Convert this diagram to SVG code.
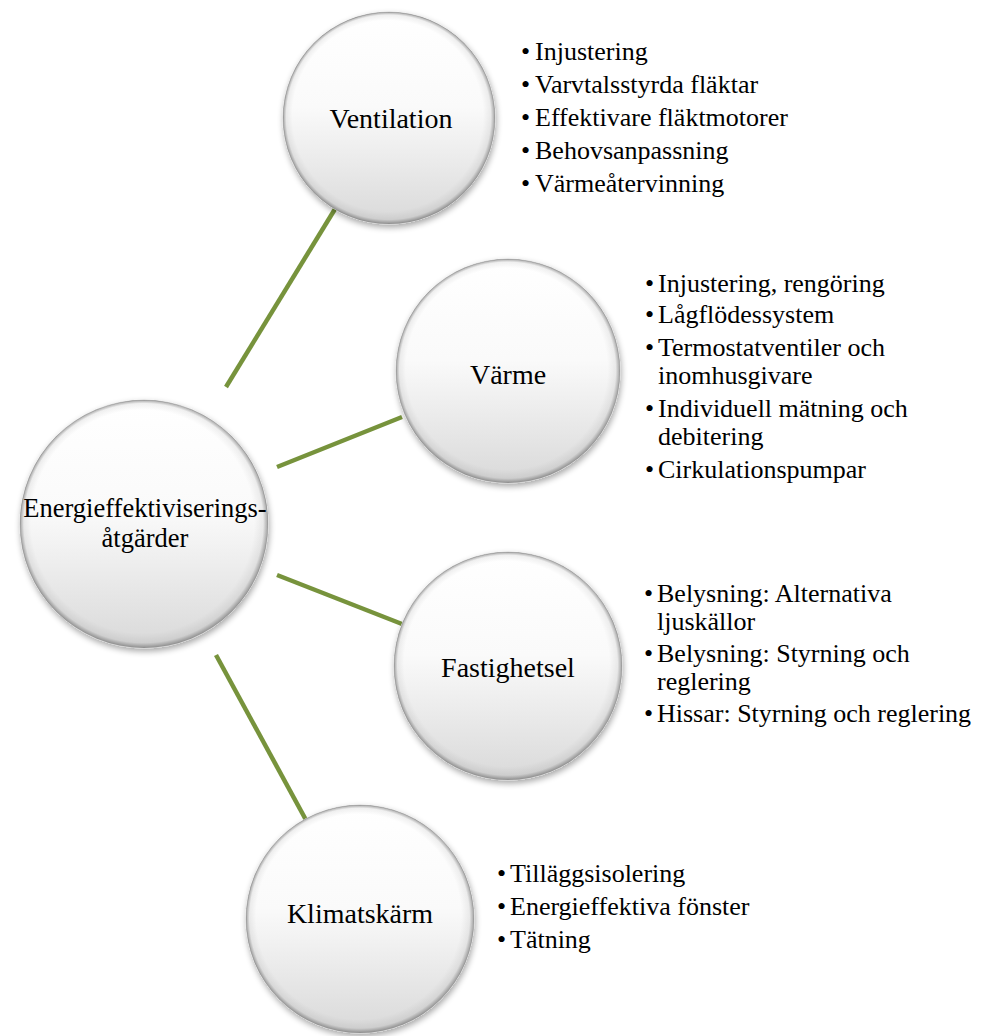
<svg xmlns="http://www.w3.org/2000/svg" width="981" height="1036" viewBox="0 0 981 1036">
<style>
.lbl{font-family:"Liberation Serif","Times New Roman",serif;font-size:28px;fill:#000;text-anchor:middle}
.ctr{font-size:26.5px}
.li{font-family:"Liberation Serif","Times New Roman",serif;font-size:26px;fill:#000}
.con{stroke:#77933C;stroke-width:4.5;fill:none}
.ball{fill:url(#fillG);stroke:#d4d4d4;stroke-width:1;filter:url(#sh)}
.rim{fill:url(#rimG)}
</style>
<defs>
<linearGradient id="fillG" x1="0" y1="0" x2="0" y2="1">
<stop offset="0" stop-color="#ffffff"/>
<stop offset="0.45" stop-color="#fafafa"/>
<stop offset="1" stop-color="#d9d9d9"/>
</linearGradient>
<radialGradient id="rimG" cx="0.5" cy="0.5" r="0.5" fx="0.44" fy="0.4">
<stop offset="0.9" stop-color="#000" stop-opacity="0"/>
<stop offset="0.965" stop-color="#000" stop-opacity="0.06"/>
<stop offset="1" stop-color="#000" stop-opacity="0.35"/>
</radialGradient>
<filter id="sh" x="-20%" y="-20%" width="140%" height="140%">
<feGaussianBlur in="SourceAlpha" stdDeviation="3"/>
<feOffset dx="1" dy="3" result="b"/>
<feComponentTransfer><feFuncA type="linear" slope="0.35"/></feComponentTransfer>
<feMerge><feMergeNode/><feMergeNode in="SourceGraphic"/></feMerge>
</filter>
</defs>
<rect width="981" height="1036" fill="#fff"/>
<g id="connectors">
<line class="con" x1="226" y1="387" x2="335" y2="209"/>
<line class="con" x1="277" y1="467" x2="402" y2="417"/>
<line class="con" x1="277" y1="575" x2="402" y2="624"/>
<line class="con" x1="216" y1="655" x2="306" y2="820"/>
</g>
<g id="center">
<circle class="ball" cx="144" cy="524" r="124"/>
<circle class="rim" cx="144" cy="524" r="124"/>
<text class="lbl ctr" x="145" y="517">Energieffektiviserings-</text>
<text class="lbl ctr" x="145" y="547">åtgärder</text>
</g>
<g id="ventilation">
<circle class="ball" cx="389" cy="118" r="106"/>
<circle class="rim" cx="389" cy="118" r="106"/>
<text class="lbl" x="391" y="128">Ventilation</text>
</g>
<g id="varme">
<circle class="ball" cx="508" cy="371" r="112"/>
<circle class="rim" cx="508" cy="371" r="112"/>
<text class="lbl" x="508" y="384">Värme</text>
</g>
<g id="fastighetsel">
<circle class="ball" cx="508" cy="666" r="114"/>
<circle class="rim" cx="508" cy="666" r="114"/>
<text class="lbl" x="508" y="677">Fastighetsel</text>
</g>
<g id="klimatskarm">
<circle class="ball" cx="360" cy="919" r="114"/>
<circle class="rim" cx="360" cy="919" r="114"/>
<text class="lbl" x="360" y="923">Klimatskärm</text>
</g>
<g id="ventilation-list" class="li">
<text x="521" y="60">•</text><text x="535" y="60">Injustering</text>
<text x="521" y="93">•</text><text x="535" y="93">Varvtalsstyrda fläktar</text>
<text x="521" y="126">•</text><text x="535" y="126">Effektivare fläktmotorer</text>
<text x="521" y="159">•</text><text x="535" y="159">Behovsanpassning</text>
<text x="521" y="192">•</text><text x="535" y="192">Värmeåtervinning</text>
</g>
<g id="varme-list" class="li">
<text x="645" y="292">•</text><text x="658" y="292">Injustering, rengöring</text>
<text x="645" y="323">•</text><text x="658" y="323">Lågflödessystem</text>
<text x="645" y="356">•</text><text x="658" y="356">Termostatventiler och</text>
<text x="658" y="384">inomhusgivare</text>
<text x="645" y="417">•</text><text x="658" y="417">Individuell mätning och</text>
<text x="658" y="445">debitering</text>
<text x="645" y="478">•</text><text x="658" y="478">Cirkulationspumpar</text>
</g>
<g id="fastighetsel-list" class="li">
<text x="644" y="602">•</text><text x="657" y="602">Belysning: Alternativa</text>
<text x="657" y="630">ljuskällor</text>
<text x="644" y="662">•</text><text x="657" y="662">Belysning: Styrning och</text>
<text x="657" y="690">reglering</text>
<text x="644" y="722">•</text><text x="657" y="722">Hissar: Styrning och reglering</text>
</g>
<g id="klimatskarm-list" class="li">
<text x="497" y="882">•</text><text x="510" y="882">Tilläggsisolering</text>
<text x="497" y="915">•</text><text x="510" y="915">Energieffektiva fönster</text>
<text x="497" y="948">•</text><text x="510" y="948">Tätning</text>
</g>
</svg>
